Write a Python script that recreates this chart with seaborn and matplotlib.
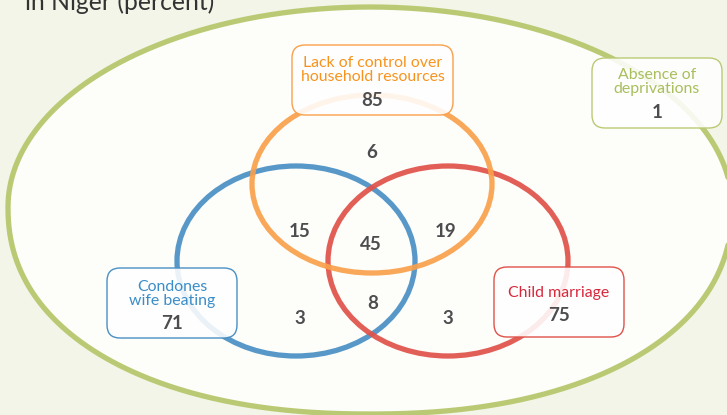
import numpy as np
import matplotlib
matplotlib.use("Agg")
import matplotlib.pyplot as plt
from matplotlib.patches import Ellipse, FancyBboxPatch
import seaborn as sns

# ---- data ----
set_labels = ["Lack of control over\nhousehold resources", "Condones\nwife beating",
              "Child marriage", "Absence of\ndeprivations"]
set_totals = [85, 71, 75, 1]
region_names = ["L only", "L&W", "L&W&C", "L&C", "W only", "W&C", "C only"]
region_values = [6, 15, 45, 19, 3, 8, 3]
title_text = "in Niger (percent)"

# ---- style ----
sns.set_theme(style="white")
plt.rcParams["font.family"] = ["Lato", "DejaVu Sans"]

W, H = 727, 415
fig = plt.figure(figsize=(W / 100, H / 100), dpi=100, facecolor="#F2F5E7")
ax = fig.add_axes([0, 0, 1, 1])
ax.set_xlim(0, W)
ax.set_ylim(H, 0)
ax.axis("off")
ax.set_facecolor("none")

green = "#BACA74"
orange = "#F9A04A"
blue = "#4A90C4"
red = "#E0524A"
num_col = "#4D4D4F"

# outer "universe" shape (ellipse top, slightly fuller bottom)
cx, cy, a, bt, bb = 370, 207, 362, 200, 207
t = np.linspace(0, 2 * np.pi, 721)
c, s = np.cos(t), np.sin(t)
n = np.where(s > 0, 2.2, 2.0)
xs = cx + a * np.sign(c) * np.abs(c) ** (2 / n)
ys = cy + np.where(s > 0, bb, bt) * np.sign(s) * np.abs(s) ** (2 / n)
ax.fill(xs, ys, color="#FDFDFA", zorder=1, lw=0)
ax.plot(xs, ys, color=green, lw=3.8, zorder=2, solid_capstyle="round")

# the three sets
circles = [((372, 184), 240, 178, orange),
           ((296, 261), 238, 190, blue),
           ((448, 261), 240, 190, red)]
for (xy, w, h, col), z in zip(circles, [4, 3, 3.5]):
    ax.add_patch(Ellipse(xy, w, h, fill=False, ec=col, lw=3.8, alpha=0.92, zorder=z))

# region numbers
region_pos = [(372, 152), (300, 231), (371, 244), (446, 231), (300, 318), (373, 303), (448, 318)]
for v, (x, y) in zip(region_values, region_pos):
    ax.text(x, y, str(v), ha="center", va="center", fontsize=13.5, fontweight="bold",
            color=num_col, zorder=6)

# labelled boxes
boxes = [(292, 45, 161, 70, orange, "#F7941D", 70, 100),
         (107, 268, 130, 70, blue, "#3A8DC8", 294, 323),
         (494, 267, 130, 70, red, "#D8283C", 293, 315),
         (592, 58, 130, 70, green, "#A8BF5C", 82, 112)]
for lab, tot, (x, y, w, h, ec, tc, ty, ny) in zip(set_labels, set_totals, boxes):
    ax.add_patch(FancyBboxPatch((x, y), w, h, boxstyle="round,pad=0,rounding_size=13",
                                fc=(1, 1, 1, 0.88), ec=ec, lw=1.0, zorder=5))
    ax.text(x + w / 2, ty, lab, ha="center", va="center", fontsize=11.4, color=tc,
            linespacing=0.92, zorder=6)
    ax.text(x + w / 2, ny, str(tot), ha="center", va="center", fontsize=13.5,
            fontweight="bold", color=num_col, zorder=6)

fig.text(25 / W, 1 - 10 / H, title_text, ha="left", va="baseline", fontsize=17.8,
         color="#333333")

fig.savefig("out.png", dpi=100, facecolor=fig.get_facecolor())
